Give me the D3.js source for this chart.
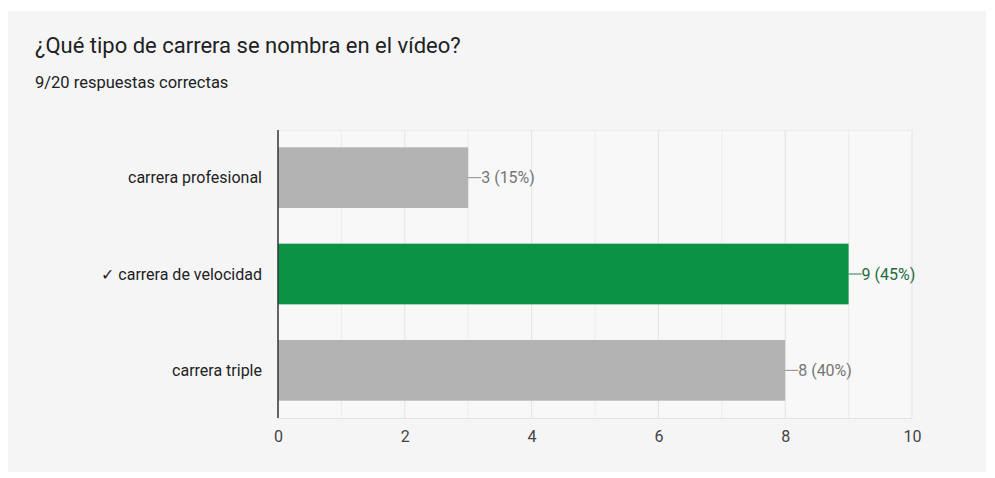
<!DOCTYPE html>
<html><head><meta charset="utf-8">
<script src="https://cdn.jsdelivr.net/npm/d3@7"></script>
<style>
html,body{margin:0;padding:0;background:#fff;}
svg{display:block;font-family:Roboto,"Noto Sans",sans-serif;}
</style></head>
<body>
<svg id="c" width="995" height="478"></svg>
<script>
const title = "¿Qué tipo de carrera se nombra en el vídeo?";
const subtitle = "9/20 respuestas correctas";
const categories = ["carrera profesional", "✓ carrera de velocidad", "carrera triple"];
const values = [3, 9, 8];
const percents = ["15%", "45%", "40%"];
const correct = [false, true, false];
const xTicks = [0, 2, 4, 6, 8, 10];

const svg = d3.select("#c");
svg.append("rect").attr("x", 8).attr("y", 11).attr("width", 978).attr("height", 461).attr("fill", "#f5f5f5");

svg.append("text").attr("x", 35).attr("y", 53).attr("font-size", 22).attr("fill", "#202124").text(title);
svg.append("text").attr("x", 35).attr("y", 88).attr("font-size", 16.5).attr("fill", "#202124").text(subtitle);

const m = {l: 278, r: 912, t: 130, b: 418};
const x = d3.scaleLinear().domain([0, 10]).range([m.l, m.r]);
const y = d3.scaleBand().domain(categories).range([m.t, m.b]).paddingInner(0.37).paddingOuter(0.18);

svg.append("rect").attr("x", m.l).attr("y", m.t).attr("width", m.r - m.l).attr("height", m.b - m.t).attr("fill", "#f8f8f8");

// grid
svg.append("g").selectAll("line").data(d3.range(1, 11)).join("line")
  .attr("x1", d => x(d)).attr("x2", d => x(d)).attr("y1", m.t).attr("y2", m.b)
  .attr("stroke", d => d % 2 === 0 ? "#e3e3e3" : "#ececec").attr("stroke-width", 1);
svg.append("line").attr("x1", m.l).attr("x2", m.r).attr("y1", m.b + 0.5).attr("y2", m.b + 0.5).attr("stroke", "#e3e3e3");
svg.append("line").attr("x1", m.l).attr("x2", m.r).attr("y1", m.t + 0.5).attr("y2", m.t + 0.5).attr("stroke", "#ececec");

// bars
const rows = categories.map((c, i) => ({c, v: values[i], p: percents[i], ok: correct[i]}));
svg.append("g").selectAll("rect").data(rows).join("rect")
  .attr("x", x(0)).attr("y", d => y(d.c)).attr("width", d => x(d.v) - x(0)).attr("height", y.bandwidth())
  .attr("fill", d => d.ok ? "#0b9244" : "#b3b3b3");

// value labels with leader
const lg = svg.append("g").selectAll("g").data(rows).join("g");
lg.append("line").attr("x1", d => x(d.v)).attr("x2", d => x(d.v) + 13)
  .attr("y1", d => y(d.c) + y.bandwidth() / 2).attr("y2", d => y(d.c) + y.bandwidth() / 2)
  .attr("stroke", d => d.ok ? "#2e7d4f" : "#8a8a8a").attr("stroke-width", 1);
lg.append("text").attr("x", d => x(d.v) + 13).attr("y", d => y(d.c) + y.bandwidth() / 2)
  .attr("dy", "0.35em").attr("font-size", 16)
  .attr("fill", d => d.ok ? "#1f6b40" : "#757575")
  .text(d => `${d.v} (${d.p})`);

// category labels
svg.append("g").selectAll("text").data(rows).join("text")
  .attr("x", 262).attr("y", d => y(d.c) + y.bandwidth() / 2).attr("dy", "0.35em")
  .attr("text-anchor", "end").attr("font-size", 16).attr("fill", "#222").text(d => d.c);

// x axis
const ax = svg.append("g").attr("transform", `translate(0,${m.b})`)
  .call(d3.axisBottom(x).tickValues(xTicks).tickSize(0).tickPadding(13));
ax.select(".domain").remove();
ax.selectAll("text").attr("font-size", 16).attr("fill", "#444").attr("font-family", "Roboto,sans-serif");

// y axis line
svg.append("line").attr("x1", m.l).attr("x2", m.l).attr("y1", m.t).attr("y2", m.b)
  .attr("stroke", "#333").attr("stroke-width", 1.5);
</script>
</body></html>
